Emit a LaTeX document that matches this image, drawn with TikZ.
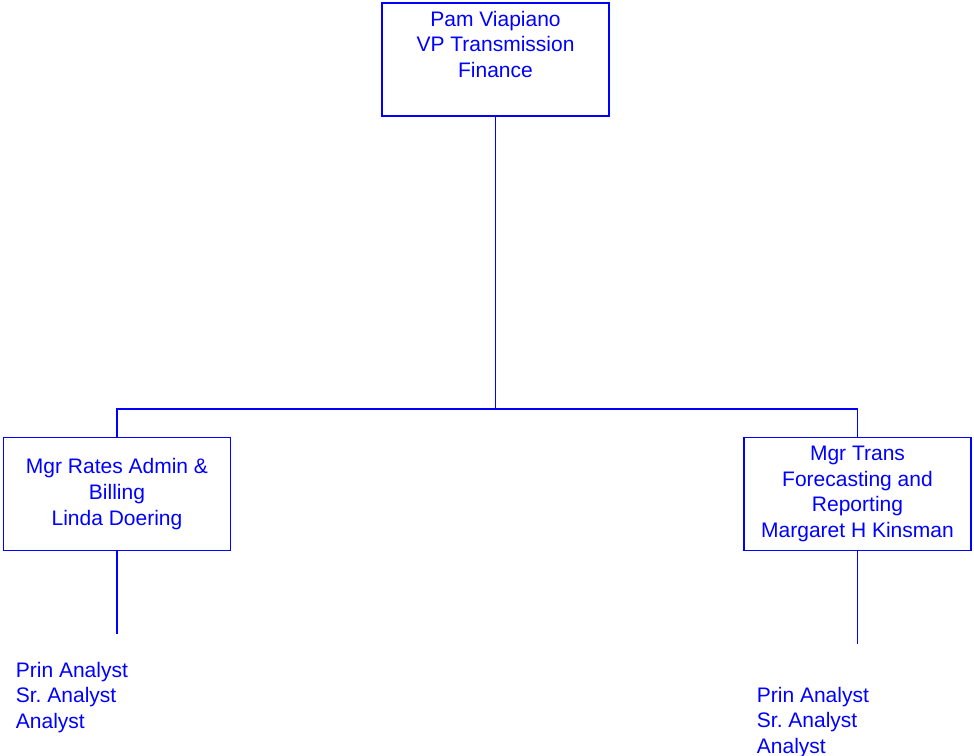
\documentclass[tikz,border=0pt]{standalone}
\usepackage{fontspec}
\setmainfont{Liberation Sans}
\usepackage{tikz}
\usetikzlibrary{positioning}
\newcommand{\chartfont}{\fontsize{21}{25.7}\selectfont}
\frenchspacing
\tikzset{
every picture/.style={line width=1.8pt, x=1pt, y=-1pt},
%%%%%%%%%%  Node styles
orgbox/.style={draw=blue, text=blue, align=center, inner sep=0pt,
               minimum width=227pt, minimum height=113pt, font=\chartfont},
stafflist/.style={text=blue, align=left, inner sep=0pt, anchor=north west,
                  font=\chartfont},
%%%% connector lines
orgline/.style={draw=blue}
}

\begin{document}
\begin{tikzpicture}
\useasboundingbox (0,0) rectangle (974,755);
%%boxes
\node[orgbox] (vp) at (495.5,59.5) {Pam Viapiano\\VP Transmission\\Finance\\[-3pt]\strut};
\node[orgbox] (rates) at (117,494) {Mgr Rates Admin \&\\Billing\\Linda Doering};
\node[orgbox] (trans) at (857.5,494) {Mgr Trans\\Forecasting and\\Reporting\\Margaret H Kinsman};
%%staff
\node[stafflist] (ratesstaff) at (15,661) {Prin Analyst\\Sr. Analyst\\Analyst};
\node[stafflist] (transstaff) at (756,686) {Prin Analyst\\Sr. Analyst\\Analyst};
%%lines
\coordinate (bus) at (495.5,409);
\coordinate (ratesend) at (117,634);
\coordinate (transend) at (857.5,644);
\draw[orgline] (vp.south) -- (bus);
\draw[orgline] (rates.north) |- (bus) -| (trans.north);
\draw[orgline] (rates.south) -- (ratesend);
\draw[orgline] (trans.south) -- (transend);
\end{tikzpicture}
\end{document}
